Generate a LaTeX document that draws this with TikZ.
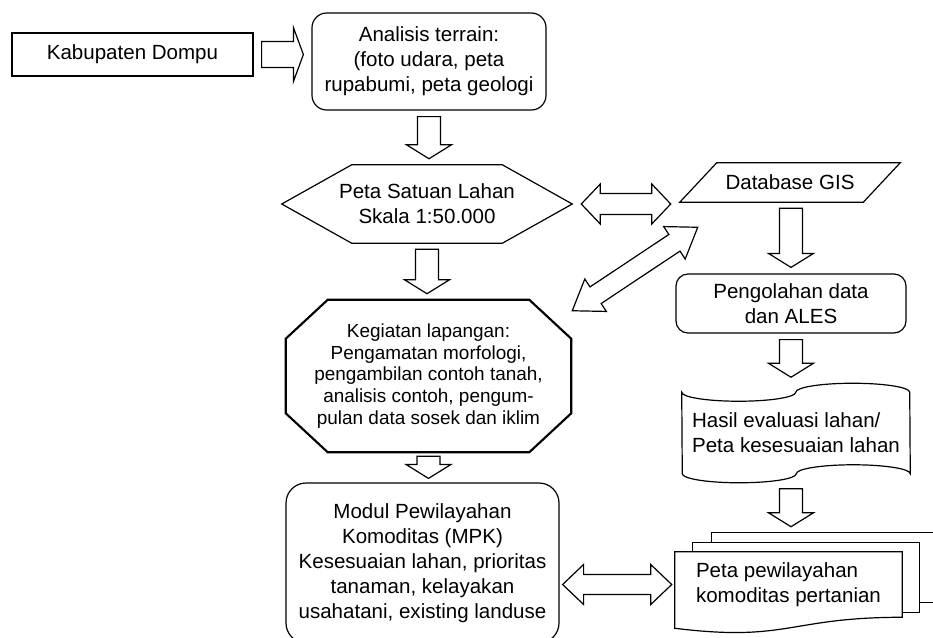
\documentclass[tikz,border=0pt]{standalone}
\usepackage{fontspec}
\setmainfont{Liberation Sans}
\usetikzlibrary{positioning,shapes,calc}

\newcommand{\mainsize}{\fontsize{15.4}{18.75}\selectfont}
\newcommand{\kegsize}{\fontsize{14.2}{16.3}\selectfont}

\tikzset{
  arrshaft/.store in=\arrshaft, arrhead/.store in=\arrhead,
  arrtip/.store in=\arrtip, arrgap/.store in=\arrgap,
  arrshaft=8.6pt, arrhead=16.9pt, arrtip=10.5pt, arrgap=4.5pt,
  blockarrow/.style={draw, line width=0.9pt, line join=miter},
  outline/.style={draw, line width=0.9pt, line join=miter},
  box/.style={rectangle, draw, line width=0.9pt, align=center, inner sep=2pt, font=\mainsize},
  holder/.style={rectangle, inner sep=0pt, align=center, font=\mainsize},
}

% block arrow from #2 to #3
\newcommand{\blockarrow}[3][]{%
  \begin{scope}[#1]
    \coordinate (ba-s) at ($(#2)!\arrgap!(#3)$);
    \coordinate (ba-t) at ($(#3)!\arrgap!(#2)$);
    \coordinate (ba-b) at ($(ba-t)!\arrtip!(ba-s)$);
    \draw[blockarrow] ($(ba-s)!\arrshaft!90:(ba-t)$) -- ($(ba-b)!\arrshaft!90:(ba-t)$)
      -- ($(ba-b)!\arrhead!90:(ba-t)$) -- (ba-t) -- ($(ba-b)!\arrhead!-90:(ba-t)$)
      -- ($(ba-b)!\arrshaft!-90:(ba-t)$) -- ($(ba-s)!\arrshaft!-90:(ba-t)$) -- cycle;
  \end{scope}}

% block arrow with a head at both ends
\newcommand{\dblarrow}[3][]{%
  \begin{scope}[#1]
    \coordinate (da-s) at ($(#2)!\arrgap!(#3)$);
    \coordinate (da-t) at ($(#3)!\arrgap!(#2)$);
    \coordinate (da-bs) at ($(da-s)!\arrtip!(da-t)$);
    \coordinate (da-bt) at ($(da-t)!\arrtip!(da-s)$);
    \draw[blockarrow] (da-s) -- ($(da-bs)!\arrhead!90:(da-t)$) -- ($(da-bs)!\arrshaft!90:(da-t)$)
      -- ($(da-bt)!\arrshaft!-90:(da-s)$) -- ($(da-bt)!\arrhead!-90:(da-s)$) -- (da-t)
      -- ($(da-bt)!\arrhead!90:(da-s)$) -- ($(da-bt)!\arrshaft!90:(da-s)$)
      -- ($(da-bs)!\arrshaft!-90:(da-t)$) -- ($(da-bs)!\arrhead!-90:(da-t)$) -- cycle;
  \end{scope}}

\begin{document}
\begin{tikzpicture}[x=0.75pt, y=0.75pt]
  \useasboundingbox (0,0) rectangle (933,-637);

  % left column
  \node[box, minimum width=180.75pt, minimum height=32.25pt] (kab) at (132.5,-54.5) {Kabupaten Dompu};
  \node[box, rounded corners=11pt, minimum width=175.5pt, minimum height=72.75pt] (terrain) at (429,-61.5)
    {Analisis terrain:\\(foto udara, peta\\rupabumi, peta geologi};
  \node[holder, minimum width=217.5pt, minimum height=58.5pt] (hex) at (427,-204)
    {Peta Satuan Lahan\\Skala 1:50.000};
  \node[holder, font=\kegsize, minimum width=213.75pt, minimum height=114pt] (keg) at (428.5,-376)
    {Kegiatan lapangan:\\Pengamatan morfologi,\\pengambilan contoh tanah,\\analisis contoh, pengum-\\pulan data sosek dan iklim};
  \node[box, rounded corners=15pt, minimum width=204.75pt, minimum height=120pt] (modul) at (422.5,-563)
    {Modul Pewilayahan\\Komoditas (MPK)\\Kesesuaian lahan, prioritas\\tanaman, kelayakan\\usahatani, existing landuse};

  % right column
  \node[holder, minimum width=165pt, minimum height=29.25pt] (db) at (790,-182.5) {Database GIS};
  \node[box, rounded corners=9pt, minimum width=172.5pt, minimum height=44.25pt] (proc) at (791,-303.5)
    {Pengolahan data\\dan ALES};
  \node[holder, align=left, minimum width=171pt, minimum height=74.25pt] (eval) at (796,-433)
    {Hasil evaluasi lahan/\\Peta kesesuaian lahan};
  \node[holder, align=left, minimum width=170.25pt, minimum height=48.75pt] (multi) at (788.5,-584.5)
    {Peta pewilayahan\\komoditas pertanian};

  % outlines of the special shapes
  \draw[outline] (hex.west) -- ($(hex.north west)+(70,0)$) -- ($(hex.north east)+(-70,0)$) -- (hex.east)
    -- ($(hex.south east)+(-70,0)$) -- ($(hex.south west)+(70,0)$) -- cycle;
  \draw[outline] (db.south west) -- ($(db.north west)+(37,0)$) -- (db.north east)
    -- ($(db.south east)+(-37,0)$) -- cycle;
  \draw[outline, line width=1.6pt] ($(keg.north west)+(42,0)$) -- ($(keg.north east)+(-42,0)$)
    -- ($(keg.north east)+(0,-39)$) -- ($(keg.south east)+(0,39)$) -- ($(keg.south east)+(-42,0)$)
    -- ($(keg.south west)+(42,0)$) -- ($(keg.south west)+(0,39)$) -- ($(keg.north west)+(0,-39)$) -- cycle;
  \draw[outline] ($(eval.north west)+(0,-9)$)
    arc[start angle=180, end angle=360, x radius=42.75pt, y radius=6.75pt]
    arc[start angle=180, end angle=0, x radius=42.75pt, y radius=6.75pt]
    -- ($(eval.south east)+(0,9)$)
    arc[start angle=0, end angle=180, x radius=42.75pt, y radius=6.75pt]
    arc[start angle=0, end angle=-180, x radius=42.75pt, y radius=6.75pt] -- cycle;
  \draw[outline] ($(multi.north west)+(37,9)$) -- ++(0,10) -- ($(multi.north east)+(35,19)$)
    -- ($(multi.south east)+(35,15)$) -- ($(multi.south east)+(17,15)$);
  \draw[outline] ($(multi.north west)+(18,0)$) -- ++(0,9) -- ($(multi.north east)+(17,9)$)
    -- ($(multi.south east)+(17,5)$) -- ($(multi.south east)+(0,5)$);
  \draw[outline] (multi.north west) -- (multi.north east) -- (multi.south east)
    .. controls (multi.south) and ($(multi.south)+(0,-25)$) .. ($(multi.south west)+(0,-11)$) -- cycle;

  \coordinate (stacktop) at ($(multi.north)+(0,19)$);
  \coordinate (diaglow) at ($(keg.north east)+(1,-11)$);
  \coordinate (diaghigh) at ($(db.south west)+(18,-25)$);

  % block arrows
  \blockarrow[arrshaft=9.75pt, arrhead=20.25pt, arrtip=7.5pt, arrgap=6pt]{kab.east}{kab.east -| terrain.west}
  \blockarrow{terrain.south}{terrain.south |- hex.north}
  \blockarrow{hex.south}{hex.south |- keg.north}
  \blockarrow[arrgap=3pt]{keg.south}{keg.south |- modul.north}
  \blockarrow{proc.north |- db.south}{proc.north}
  \blockarrow{proc.south}{proc.south |- eval.north}
  \blockarrow{eval.south -| proc.south}{proc.south |- stacktop}
  \dblarrow[arrshaft=7.9pt, arrhead=15pt, arrtip=14.25pt, arrgap=6.75pt]{hex.east}{hex.east -| db.south west}
  \dblarrow[arrshaft=7.5pt, arrhead=14.6pt, arrtip=21pt, arrgap=0pt]{diaglow}{diaghigh}
  \dblarrow[arrshaft=7.5pt, arrhead=15pt, arrtip=15.75pt, arrgap=2.25pt]{multi.west -| modul.east}{multi.west}
\end{tikzpicture}
\end{document}
